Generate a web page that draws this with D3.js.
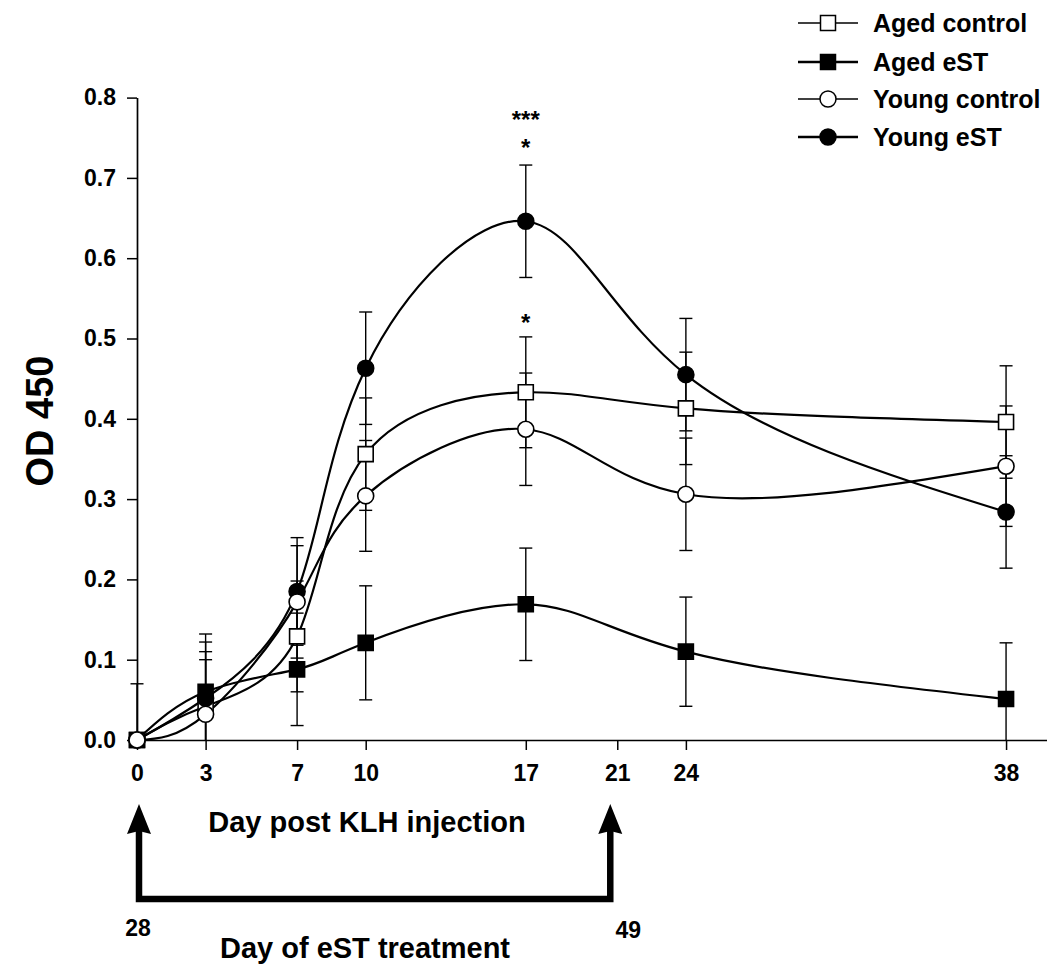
<!DOCTYPE html>
<html>
<head>
<meta charset="utf-8">
<script src="https://cdn.jsdelivr.net/npm/d3@7"></script>
<style>
  body { margin: 0; background: #fff; }
  text { font-family: Arial, "Liberation Sans", sans-serif; font-weight: bold; fill: #000; }
</style>
</head>
<body>
<script>
// days post KLH injection
const days = [0, 3, 7, 10, 17, 24, 38];
const xTicks = [0, 3, 7, 10, 17, 21, 24, 38];
const yTicks = [0, 0.1, 0.2, 0.3, 0.4, 0.5, 0.6, 0.7, 0.8];

const seriesNames = ['Aged control', 'Aged eST', 'Young control', 'Young eST'];
const agedControl = [0, 0.042, 0.129, 0.356, 0.433, 0.413, 0.396];
const agedControlErr = [0, 0.068, 0.069, 0.07, 0.069, 0.07, 0.07];
const agedEst = [0, 0.060, 0.088, 0.121, 0.169, 0.110, 0.051];
const agedEstErr = [0, 0.072, 0.07, 0.071, 0.07, 0.068, 0.07];
const youngControl = [0, 0.032, 0.172, 0.304, 0.387, 0.306, 0.341];
const youngControlErr = [0, 0.068, 0.07, 0.069, 0.07, 0.07, 0.075];
const youngEst = [0, 0.052, 0.185, 0.463, 0.646, 0.455, 0.284];
const youngEstErr = [0.07, 0.07, 0.067, 0.07, 0.07, 0.07, 0.07];

// eST treatment window: days post KLH -> day of treatment
const treatDays = [0, 21];
const treatLabels = ['28', '49'];

const W = 1047, H = 964;
const x = d3.scaleLinear().domain([0, 40]).range([137, 1051.8]);
const y = d3.scaleLinear().domain([0, 0.8]).range([740, 97.6]);

const svg = d3.select('body').append('svg')
	.attr('width', W)
	.attr('height', H);

svg.append('rect').attr('width', W).attr('height', H).attr('fill', 'white');

const series = [
	{ name: seriesNames[0], values: agedControl, err: agedControlErr, shape: d3.symbolSquare, fill: 'white' },
	{ name: seriesNames[1], values: agedEst, err: agedEstErr, shape: d3.symbolSquare, fill: 'black' },
	{ name: seriesNames[2], values: youngControl, err: youngControlErr, shape: d3.symbolCircle, fill: 'white' },
	{ name: seriesNames[3], values: youngEst, err: youngEstErr, shape: d3.symbolCircle, fill: 'black' },
];
const drawOrder = [0, 1, 3, 2];

const symbolSize = (shape) => shape === d3.symbolSquare ? 15 * 15 : Math.PI * 8 * 8;

// axes
const yAxis = svg.append('g')
	.attr('transform', `translate(${x(0)},0)`)
	.call(d3.axisLeft(y).tickValues(yTicks).tickSize(10).tickSizeOuter(0).tickPadding(11)
		.tickFormat(d3.format('.1f')));

const xAxis = svg.append('g')
	.attr('transform', `translate(0,${y(0)})`)
	.call(d3.axisBottom(x).tickValues(xTicks).tickSize(10).tickSizeOuter(0).tickFormat(d3.format('d')));

[yAxis, xAxis].forEach(a => {
	a.select('.domain').attr('stroke-width', 1.7);
	a.selectAll('.tick line').attr('stroke-width', 1.5);
	a.selectAll('.tick text').style('font-size', '23px').style('font-weight', 'bold')
		.style('font-family', 'Arial, "Liberation Sans", sans-serif');
});
xAxis.selectAll('.tick text').attr('y', 41).attr('dy', null);

// error bars
const capW = 13;
series.forEach(s => {
	const g = svg.append('g').attr('stroke', 'black').attr('stroke-width', 1.4);
	days.forEach((d, i) => {
		if (!s.err[i]) return;
		const lo = Math.max(0, s.values[i] - s.err[i]);
		const hi = s.values[i] + s.err[i];
		g.append('line').attr('x1', x(d)).attr('x2', x(d)).attr('y1', y(lo)).attr('y2', y(hi));
		g.append('line').attr('x1', x(d) - capW / 2).attr('x2', x(d) + capW / 2).attr('y1', y(hi)).attr('y2', y(hi));
		if (s.values[i] - s.err[i] >= 0) {
			g.append('line').attr('x1', x(d) - capW / 2).attr('x2', x(d) + capW / 2).attr('y1', y(lo)).attr('y2', y(lo));
		}
	});
});

// spline curves
const line = d3.line()
	.x((d, i) => x(days[i]))
	.y(d => y(d))
	.curve(d3.curveNatural);

series.forEach(s => {
	svg.append('path')
		.attr('d', line(s.values))
		.attr('fill', 'none')
		.attr('stroke', 'black')
		.attr('stroke-width', 2.2);
});

// markers
drawOrder.forEach(k => {
	const s = series[k];
	svg.append('g').selectAll('path')
		.data(s.values)
		.enter()
		.append('path')
		.attr('d', d3.symbol().type(s.shape).size(symbolSize(s.shape)))
		.attr('transform', (d, i) => `translate(${x(days[i])},${y(d)})`)
		.attr('fill', s.fill)
		.attr('stroke', 'black')
		.attr('stroke-width', 1.6);
});

// significance marks at day 17
const i17 = days.indexOf(17);
const topYoung = y(youngEst[i17] + youngEstErr[i17]);
const topAged = y(agedControl[i17] + agedControlErr[i17]);
svg.append('text').attr('x', x(17)).attr('y', topYoung - 37).attr('text-anchor', 'middle')
	.style('font-size', '24px').text('***');
svg.append('text').attr('x', x(17)).attr('y', topYoung - 9).attr('text-anchor', 'middle')
	.style('font-size', '24px').text('*');
svg.append('text').attr('x', x(17)).attr('y', topAged - 6).attr('text-anchor', 'middle')
	.style('font-size', '24px').text('*');

// axis titles
svg.append('text')
	.attr('transform', 'translate(53,421) rotate(-90)')
	.attr('text-anchor', 'middle')
	.style('font-size', '38px')
	.text('OD 450');

svg.append('text')
	.attr('x', 367).attr('y', 832)
	.attr('text-anchor', 'middle')
	.style('font-size', '29px')
	.text('Day post KLH injection');

svg.append('text')
	.attr('x', 365).attr('y', 958)
	.attr('text-anchor', 'middle')
	.style('font-size', '29px')
	.text('Day of eST treatment');

// treatment bracket with arrows (hand placed slightly left of the 21 tick)
const tipY = 804, bracketY = 899, headH = 30, headW = 24;
const ax = treatDays.map((d, i) => x(d) + (i === 0 ? 2 : -7));
svg.append('path')
	.attr('d', `M${ax[0]},${tipY + headH - 4}V${bracketY}H${ax[1]}V${tipY + headH - 4}`)
	.attr('fill', 'none')
	.attr('stroke', 'black')
	.attr('stroke-width', 6.5)
	.attr('stroke-linejoin', 'miter');

svg.selectAll('.arrowhead')
	.data(ax)
	.enter()
	.append('path')
	.attr('class', 'arrowhead')
	.attr('d', d => `M${d},${tipY}L${d + headW / 2},${tipY + headH}L${d},${tipY + headH - 3}L${d - headW / 2},${tipY + headH}Z`)
	.attr('fill', 'black');

svg.selectAll('.treatlabel')
	.data(treatLabels)
	.enter()
	.append('text')
	.attr('class', 'treatlabel')
	.attr('x', (d, i) => ax[i] + (i === 0 ? -1 : 18))
	.attr('y', (d, i) => i === 0 ? 936 : 938)
	.attr('text-anchor', 'middle')
	.style('font-size', '23px')
	.text(d => d);

// legend
const legend = svg.append('g');
const rowY = [23, 62, 99, 137];
series.forEach((s, i) => {
	const g = legend.append('g').attr('transform', `translate(0,${rowY[i]})`);
	g.append('line').attr('x1', 798).attr('x2', 858).attr('y1', 0).attr('y2', 0)
		.attr('stroke', 'black').attr('stroke-width', s.fill === 'black' ? 2.4 : 1.6);
	g.append('path')
		.attr('d', d3.symbol().type(s.shape).size(symbolSize(s.shape)))
		.attr('transform', 'translate(828,0)')
		.attr('fill', s.fill)
		.attr('stroke', 'black')
		.attr('stroke-width', 1.5);
	g.append('text').attr('x', 873).attr('y', 0).attr('dy', '0.36em')
		.style('font-size', '25px')
		.text(s.name);
});
</script>
</body>
</html>
